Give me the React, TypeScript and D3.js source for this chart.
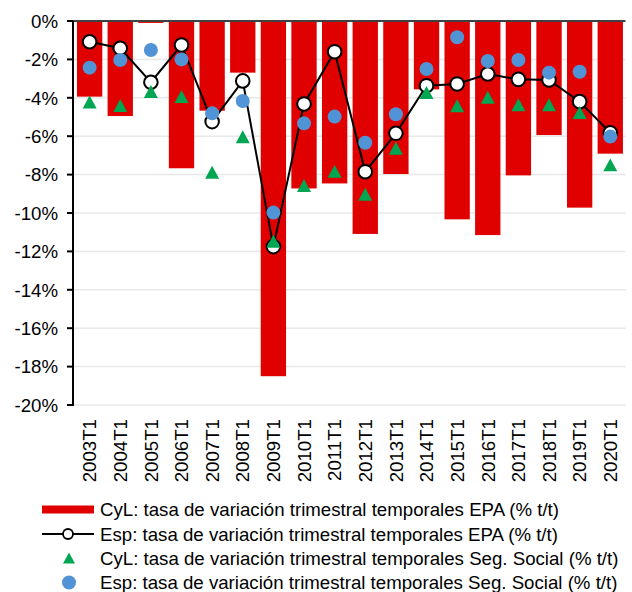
import React from "react";
import * as d3 from "d3";

const categories = ["2003T1","2004T1","2005T1","2006T1","2007T1","2008T1","2009T1","2010T1","2011T1","2012T1","2013T1","2014T1","2015T1","2016T1","2017T1","2018T1","2019T1","2020T1"];
const cylEpa = [-3.94,-4.95,-0.1,-7.67,-4.67,-2.69,-18.5,-8.72,-8.46,-11.09,-7.97,-3.56,-10.33,-11.15,-8.04,-5.94,-9.72,-6.91];
const espEpa = [-1.08,-1.42,-3.19,-1.25,-5.24,-3.12,-11.75,-4.32,-1.6,-7.85,-5.85,-3.37,-3.28,-2.76,-3.04,-3.07,-4.2,-5.82];
const cylSs = [-4.25,-4.43,-3.7,-3.96,-7.9,-6.06,-11.5,-8.6,-7.86,-9.05,-6.65,-3.75,-4.44,-4.0,-4.39,-4.39,-4.79,-7.52];
const espSs = [-2.43,-2.03,-1.51,-2.0,-4.81,-4.17,-9.98,-5.33,-4.98,-6.34,-4.86,-2.5,-0.85,-2.08,-2.03,-2.69,-2.64,-6.02];
const yTicks = [0,-2,-4,-6,-8,-10,-12,-14,-16,-18,-20];
const legendLabels = [
  "CyL: tasa de variación trimestral temporales EPA (% t/t)",
  "Esp: tasa de variación trimestral temporales EPA (% t/t)",
  "CyL: tasa de variación trimestral temporales Seg. Social (% t/t)",
  "Esp: tasa de variación trimestral temporales Seg. Social (% t/t)",
];

const RED = "#E00000";
const GREEN = "#00A651";
const BLUE = "#5194D5";
const FONT = "'Liberation Sans', Arial, sans-serif";
const FS = 18.67;

export default function App() {
  const W = 632, H = 592;
  const x0 = 73, x1 = 625.5, yTop = 21, yBot = 405;
  const x = d3.scaleBand<string>().domain(categories).range([74.3, 625.6]).paddingInner(0.173).paddingOuter(0.087);
  const y = d3.scaleLinear().domain([-20, 0]).range([yBot, yTop]);
  const cx = (i: number) => (x(categories[i]) as number) + x.bandwidth() / 2;
  const line = d3.line<number>().x((_, i) => cx(i)).y(d => y(d));
  const tri = (r: number) => `M0,${-r}L${r},${r * 0.85}L${-r},${r * 0.85}Z`;
  const legY = [509.5, 534, 558.5, 582.5];

  return (
    <svg width={W} height={H} style={{ position: "absolute", left: 0, top: 0, background: "#fff" }} fontFamily={FONT}>
      <rect x={0} y={0} width={W} height={H} fill="#fff" />
      {yTicks.filter(t => t !== 0).map(t => (
        <line key={t} x1={x0} x2={x1} y1={y(t)} y2={y(t)} stroke="#E8E8E8" strokeWidth={1.5} />
      ))}
      {cylEpa.map((v, i) => (
        <rect key={i} x={x(categories[i])} y={y(0)} width={x.bandwidth()} height={y(v) - y(0)} fill={RED} />
      ))}
      <line x1={x0} x2={x1} y1={y(0)} y2={y(0)} stroke="#404040" strokeWidth={2} />
      <line x1={x0} x2={x0} y1={yTop} y2={yBot + 1} stroke="#000" strokeWidth={2} />
      {yTicks.map(t => (
        <g key={t}>
          <line x1={x0 - 6} x2={x0} y1={y(t)} y2={y(t)} stroke="#000" strokeWidth={2} />
          <text x={58} y={y(t)} dy="0.36em" textAnchor="end" fontSize={FS} fill="#000">{`${t}%`}</text>
        </g>
      ))}
      {categories.map((c, i) => (
        <text key={c} transform={`translate(${cx(i)},419) rotate(-90)`} dy="0.36em" textAnchor="end" fontSize={FS} fill="#000">{c}</text>
      ))}
      <path d={line(espEpa) as string} fill="none" stroke="#000" strokeWidth={2} />
      {espEpa.map((v, i) => (
        <circle key={i} cx={cx(i)} cy={y(v)} r={6.8} fill="#fff" stroke="#000" strokeWidth={2} />
      ))}
      {cylSs.map((v, i) => (
        <path key={i} d={tri(7)} transform={`translate(${cx(i)},${y(v)})`} fill={GREEN} />
      ))}
      {espSs.map((v, i) => (
        <circle key={i} cx={cx(i)} cy={y(v)} r={7} fill={BLUE} />
      ))}
      <rect x={42} y={legY[0] - 4} width={52} height={8} fill={RED} />
      <line x1={42} x2={94} y1={legY[1]} y2={legY[1]} stroke="#000" strokeWidth={2} />
      <circle cx={68} cy={legY[1]} r={5} fill="#fff" stroke="#000" strokeWidth={1.8} />
      <path d={tri(6)} transform={`translate(69,${legY[2]})`} fill={GREEN} />
      <circle cx={69} cy={legY[3]} r={7} fill={BLUE} />
      {legendLabels.map((l, i) => (
        <text key={i} x={100} y={legY[i]} dy="0.36em" fontSize={FS} fill="#000">{l}</text>
      ))}
    </svg>
  );
}
